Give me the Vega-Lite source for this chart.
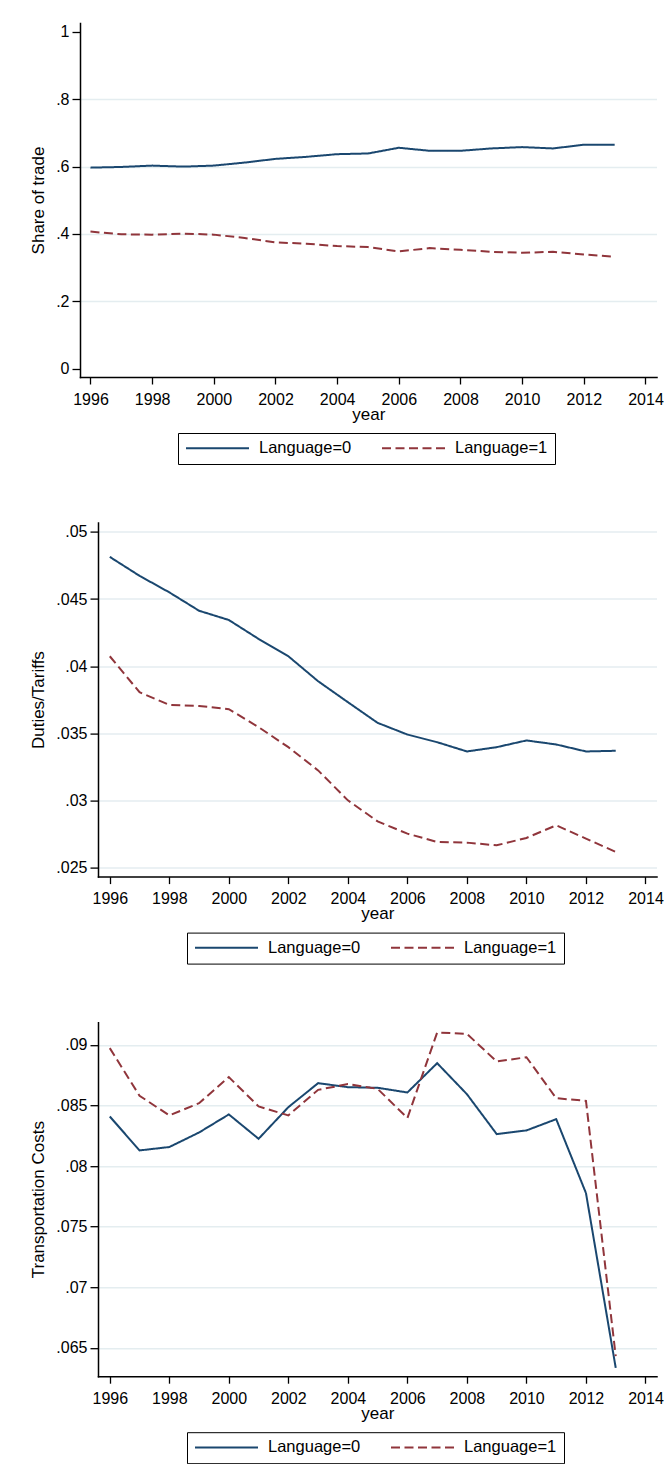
{
  "$schema": "https://vega.github.io/schema/vega-lite/v6.json",
  "background": "white",
  "padding": {"left": 29, "top": 23, "right": 0, "bottom": 0},
  "columns": 1,
  "align": "none",
  "bounds": "flush",
  "spacing": 145.6,
  "datasets": {
    "share": [
      {"year": 1996, "group": "Language=0", "value": 0.597},
      {"year": 1997, "group": "Language=0", "value": 0.599},
      {"year": 1998, "group": "Language=0", "value": 0.603},
      {"year": 1999, "group": "Language=0", "value": 0.600},
      {"year": 2000, "group": "Language=0", "value": 0.603},
      {"year": 2001, "group": "Language=0", "value": 0.612},
      {"year": 2002, "group": "Language=0", "value": 0.623},
      {"year": 2003, "group": "Language=0", "value": 0.629},
      {"year": 2004, "group": "Language=0", "value": 0.637},
      {"year": 2005, "group": "Language=0", "value": 0.639},
      {"year": 2006, "group": "Language=0", "value": 0.656},
      {"year": 2007, "group": "Language=0", "value": 0.647},
      {"year": 2008, "group": "Language=0", "value": 0.647},
      {"year": 2009, "group": "Language=0", "value": 0.654},
      {"year": 2010, "group": "Language=0", "value": 0.658},
      {"year": 2011, "group": "Language=0", "value": 0.654},
      {"year": 2012, "group": "Language=0", "value": 0.665},
      {"year": 2013, "group": "Language=0", "value": 0.665},
      {"year": 1996, "group": "Language=1", "value": 0.407},
      {"year": 1997, "group": "Language=1", "value": 0.399},
      {"year": 1998, "group": "Language=1", "value": 0.398},
      {"year": 1999, "group": "Language=1", "value": 0.401},
      {"year": 2000, "group": "Language=1", "value": 0.398},
      {"year": 2001, "group": "Language=1", "value": 0.388},
      {"year": 2002, "group": "Language=1", "value": 0.375},
      {"year": 2003, "group": "Language=1", "value": 0.371},
      {"year": 2004, "group": "Language=1", "value": 0.364},
      {"year": 2005, "group": "Language=1", "value": 0.361},
      {"year": 2006, "group": "Language=1", "value": 0.348},
      {"year": 2007, "group": "Language=1", "value": 0.358},
      {"year": 2008, "group": "Language=1", "value": 0.353},
      {"year": 2009, "group": "Language=1", "value": 0.347},
      {"year": 2010, "group": "Language=1", "value": 0.344},
      {"year": 2011, "group": "Language=1", "value": 0.347},
      {"year": 2012, "group": "Language=1", "value": 0.339},
      {"year": 2013, "group": "Language=1", "value": 0.332}
    ],
    "duties": [
      {"year": 1996, "group": "Language=0", "value": 0.04814},
      {"year": 1997, "group": "Language=0", "value": 0.04673},
      {"year": 1998, "group": "Language=0", "value": 0.04550},
      {"year": 1999, "group": "Language=0", "value": 0.04413},
      {"year": 2000, "group": "Language=0", "value": 0.04344},
      {"year": 2001, "group": "Language=0", "value": 0.04203},
      {"year": 2002, "group": "Language=0", "value": 0.04074},
      {"year": 2003, "group": "Language=0", "value": 0.03888},
      {"year": 2004, "group": "Language=0", "value": 0.03732},
      {"year": 2005, "group": "Language=0", "value": 0.03578},
      {"year": 2006, "group": "Language=0", "value": 0.03491},
      {"year": 2007, "group": "Language=0", "value": 0.03434},
      {"year": 2008, "group": "Language=0", "value": 0.03365},
      {"year": 2009, "group": "Language=0", "value": 0.03397},
      {"year": 2010, "group": "Language=0", "value": 0.03447},
      {"year": 2011, "group": "Language=0", "value": 0.03417},
      {"year": 2012, "group": "Language=0", "value": 0.03365},
      {"year": 2013, "group": "Language=0", "value": 0.03370},
      {"year": 1996, "group": "Language=1", "value": 0.04074},
      {"year": 1997, "group": "Language=1", "value": 0.03806},
      {"year": 1998, "group": "Language=1", "value": 0.03712},
      {"year": 1999, "group": "Language=1", "value": 0.03704},
      {"year": 2000, "group": "Language=1", "value": 0.03680},
      {"year": 2001, "group": "Language=1", "value": 0.03546},
      {"year": 2002, "group": "Language=1", "value": 0.03397},
      {"year": 2003, "group": "Language=1", "value": 0.03224},
      {"year": 2004, "group": "Language=1", "value": 0.03001},
      {"year": 2005, "group": "Language=1", "value": 0.02844},
      {"year": 2006, "group": "Language=1", "value": 0.02753},
      {"year": 2007, "group": "Language=1", "value": 0.02691},
      {"year": 2008, "group": "Language=1", "value": 0.02686},
      {"year": 2009, "group": "Language=1", "value": 0.02666},
      {"year": 2010, "group": "Language=1", "value": 0.02721},
      {"year": 2011, "group": "Language=1", "value": 0.02815},
      {"year": 2012, "group": "Language=1", "value": 0.02716},
      {"year": 2013, "group": "Language=1", "value": 0.02617}
    ],
    "transport": [
      {"year": 1996, "group": "Language=0", "value": 0.08409},
      {"year": 1997, "group": "Language=0", "value": 0.08129},
      {"year": 1998, "group": "Language=0", "value": 0.08157},
      {"year": 1999, "group": "Language=0", "value": 0.08277},
      {"year": 2000, "group": "Language=0", "value": 0.08426},
      {"year": 2001, "group": "Language=0", "value": 0.08225},
      {"year": 2002, "group": "Language=0", "value": 0.08486},
      {"year": 2003, "group": "Language=0", "value": 0.08684},
      {"year": 2004, "group": "Language=0", "value": 0.08651},
      {"year": 2005, "group": "Language=0", "value": 0.08646},
      {"year": 2006, "group": "Language=0", "value": 0.08607},
      {"year": 2007, "group": "Language=0", "value": 0.08849},
      {"year": 2008, "group": "Language=0", "value": 0.08593},
      {"year": 2009, "group": "Language=0", "value": 0.08264},
      {"year": 2010, "group": "Language=0", "value": 0.08294},
      {"year": 2011, "group": "Language=0", "value": 0.08387},
      {"year": 2012, "group": "Language=0", "value": 0.07777},
      {"year": 2013, "group": "Language=0", "value": 0.06335},
      {"year": 1996, "group": "Language=1", "value": 0.08973},
      {"year": 1997, "group": "Language=1", "value": 0.08580},
      {"year": 1998, "group": "Language=1", "value": 0.08418},
      {"year": 1999, "group": "Language=1", "value": 0.08519},
      {"year": 2000, "group": "Language=1", "value": 0.08734},
      {"year": 2001, "group": "Language=1", "value": 0.08492},
      {"year": 2002, "group": "Language=1", "value": 0.08418},
      {"year": 2003, "group": "Language=1", "value": 0.08629},
      {"year": 2004, "group": "Language=1", "value": 0.08676},
      {"year": 2005, "group": "Language=1", "value": 0.08637},
      {"year": 2006, "group": "Language=1", "value": 0.08396},
      {"year": 2007, "group": "Language=1", "value": 0.09102},
      {"year": 2008, "group": "Language=1", "value": 0.09091},
      {"year": 2009, "group": "Language=1", "value": 0.08863},
      {"year": 2010, "group": "Language=1", "value": 0.08898},
      {"year": 2011, "group": "Language=1", "value": 0.08560},
      {"year": 2012, "group": "Language=1", "value": 0.08538},
      {"year": 2013, "group": "Language=1", "value": 0.06431}
    ]
  },
  "concat": [
    {
      "width": 576.5,
      "height": 354,
      "data": {"name": "share"},
      "mark": {"type": "line", "strokeWidth": 2},
      "encoding": {
        "x": {"field": "year", "type": "quantitative",
          "scale": {"domain": [1995.66, 2014.357], "nice": false, "zero": false},
          "axis": {"values": [1996, 1998, 2000, 2002, 2004, 2006, 2008, 2010, 2012, 2014], "format": "d", "title": "year"}},
        "y": {"field": "value", "type": "quantitative",
          "scale": {"domain": [-0.0249, 1.0266], "nice": false, "zero": false},
          "axis": {"values": [0, 0.2, 0.4, 0.6, 0.8, 1], "title": "Share of trade",
            "labelExpr": "datum.value == 0 ? '0' : (datum.value < 1 ? slice(format(datum.value, '~g'), 1) : format(datum.value, '~g'))",
            "gridColor": {"condition": {"test": "datum.value == 0 || datum.value == 1", "value": "transparent"}, "value": "#e4edf0"}}},
        "color": {"field": "group", "type": "nominal",
          "scale": {"domain": ["Language=0", "Language=1"], "range": ["#1a476f", "#90353b"]},
          "legend": {"title": null, "orient": "none", "legendX": 98, "legendY": 410}},
        "strokeDash": {"field": "group", "type": "nominal",
          "scale": {"domain": ["Language=0", "Language=1"], "range": [[1, 0], [9, 4.5]]},
          "legend": {"title": null, "orient": "none", "legendX": 98, "legendY": 410}}
      }
    },
    {
      "width": 576.5,
      "height": 354,
      "data": {"name": "duties"},
      "mark": {"type": "line", "strokeWidth": 2},
      "encoding": {
        "x": {"field": "year", "type": "quantitative",
          "scale": {"domain": [1995.604, 2014.37], "range": [18, 576.5], "nice": false, "zero": false},
          "axis": {"values": [1996, 1998, 2000, 2002, 2004, 2006, 2008, 2010, 2012, 2014], "format": "d", "title": "year"}},
        "y": {"field": "value", "type": "quantitative",
          "scale": {"domain": [0.02433, 0.050694], "nice": false, "zero": false},
          "axis": {"values": [0.025, 0.03, 0.035, 0.04, 0.045, 0.05], "title": "Duties/Tariffs", "offset": -18,
            "labelExpr": "slice(format(datum.value, '~g'), 1)"}},
        "color": {"field": "group", "type": "nominal",
          "scale": {"domain": ["Language=0", "Language=1"], "range": ["#1a476f", "#90353b"]},
          "legend": {"title": null, "orient": "none", "legendX": 107, "legendY": 410}},
        "strokeDash": {"field": "group", "type": "nominal",
          "scale": {"domain": ["Language=0", "Language=1"], "range": [[1, 0], [9, 4.5]]},
          "legend": {"title": null, "orient": "none", "legendX": 107, "legendY": 410}}
      }
    },
    {
      "width": 576.5,
      "height": 354,
      "data": {"name": "transport"},
      "mark": {"type": "line", "strokeWidth": 2},
      "encoding": {
        "x": {"field": "year", "type": "quantitative",
          "scale": {"domain": [1995.604, 2014.37], "range": [18, 576.5], "nice": false, "zero": false},
          "axis": {"values": [1996, 1998, 2000, 2002, 2004, 2006, 2008, 2010, 2012, 2014], "format": "d", "title": "year"}},
        "y": {"field": "value", "type": "quantitative",
          "scale": {"domain": [0.062659, 0.091871], "nice": false, "zero": false},
          "axis": {"values": [0.065, 0.07, 0.075, 0.08, 0.085, 0.09], "title": "Transportation Costs", "offset": -18,
            "labelExpr": "slice(format(datum.value, '~g'), 1)"}},
        "color": {"field": "group", "type": "nominal",
          "scale": {"domain": ["Language=0", "Language=1"], "range": ["#1a476f", "#90353b"]},
          "legend": {"title": null, "orient": "none", "legendX": 107, "legendY": 410}},
        "strokeDash": {"field": "group", "type": "nominal",
          "scale": {"domain": ["Language=0", "Language=1"], "range": [[1, 0], [9, 4.5]]},
          "legend": {"title": null, "orient": "none", "legendX": 107, "legendY": 410}}
      }
    }
  ],
  "resolve": {
    "scale": {"color": "independent", "strokeDash": "independent"},
    "legend": {"color": "independent", "strokeDash": "independent"}
  },
  "config": {
    "font": "Liberation Sans",
    "view": {"stroke": null},
    "line": {"strokeCap": "butt"},
    "axis": {
      "labelFont": "Liberation Sans", "titleFont": "Liberation Sans",
      "labelFontSize": 16, "titleFontSize": 17, "titleFontWeight": "normal",
      "labelColor": "#000", "titleColor": "#000",
      "domainColor": "#000", "domainWidth": 1.5, "tickColor": "#000", "tickWidth": 1.3,
      "domainCap": "square"
    },
    "axisX": {"grid": false, "tickSize": 7, "labelPadding": 7, "titlePadding": -1, "labelFlush": false, "labelOverlap": false},
    "axisY": {"grid": true, "gridColor": "#e4edf0", "gridWidth": 1.5, "tickSize": 8, "labelPadding": 3, "titlePadding": 8, "labelAngle": 0, "labelOverlap": false},
    "legend": {
      "direction": "horizontal", "symbolType": "stroke", "symbolSize": 3969, "clipHeight": 16,
      "symbolStrokeWidth": 2, "labelFont": "Liberation Sans", "labelFontSize": 16.5, "labelColor": "#000",
      "strokeColor": "#000", "fillColor": "white", "padding": 7, "columnPadding": 29, "labelOffset": 9
    }
  }
}
